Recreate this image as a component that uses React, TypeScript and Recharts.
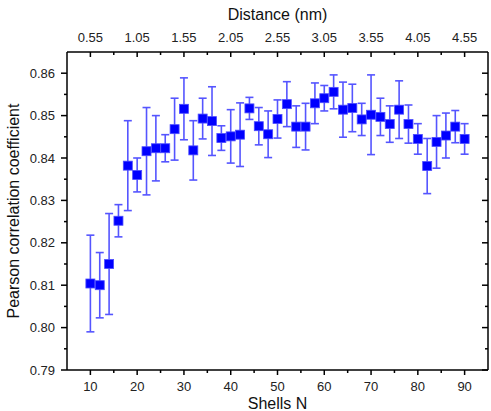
import { ScatterChart, Scatter, XAxis, YAxis, ErrorBar } from 'recharts'

// 壳层数 N
const shells = [
  10, 12, 14, 16, 18, 20, 22, 24, 26, 28, 30, 32, 34, 36, 38, 40, 42, 44, 46, 48, 50,
  52, 54, 56, 58, 60, 62, 64, 66, 68, 70, 72, 74, 76, 78, 80, 82, 84, 86, 88, 90,
]
// Pearson 相关系数
const pearson = [
  0.8104, 0.81, 0.815, 0.8252, 0.8382, 0.836, 0.8416, 0.8423, 0.8423, 0.8468, 0.8516,
  0.8418, 0.8493, 0.8487, 0.8447, 0.8451, 0.8455, 0.8517, 0.8475, 0.8456, 0.8492,
  0.8527, 0.8474, 0.8474, 0.8529, 0.8541, 0.8556, 0.8514, 0.8518, 0.8491, 0.8502,
  0.8497, 0.848, 0.8514, 0.848, 0.8445, 0.8381, 0.8438, 0.8453, 0.8474, 0.8445,
]
// 误差（±）
const errors = [
  0.0114, 0.0077, 0.0119, 0.0038, 0.0106, 0.004, 0.0103, 0.0077, 0.0032, 0.0073, 0.0073,
  0.007, 0.0048, 0.0081, 0.0029, 0.0063, 0.0075, 0.0026, 0.0044, 0.0055, 0.0045,
  0.0053, 0.0049, 0.0055, 0.0048, 0.003, 0.004, 0.0065, 0.0056, 0.0038, 0.0094,
  0.0044, 0.0043, 0.0068, 0.0045, 0.0036, 0.0065, 0.0062, 0.0053, 0.0038, 0.0036,
]

// 刻度（主刻度 + 次刻度）
const xTicks = [10, 15, 20, 25, 30, 35, 40, 45, 50, 55, 60, 65, 70, 75, 80, 85, 90]
const xLabels = [10, 20, 30, 40, 50, 60, 70, 80, 90]
// 顶部距离轴标签，与 xLabels 一一对应
const distLabels = ['0.55', '1.05', '1.55', '2.05', '2.55', '3.05', '3.55', '4.05', '4.55']
const yTicks = [0.79, 0.795, 0.8, 0.805, 0.81, 0.815, 0.82, 0.825, 0.83, 0.835, 0.84, 0.845, 0.85, 0.855, 0.86]
const yLabels = [0.79, 0.8, 0.81, 0.82, 0.83, 0.84, 0.85, 0.86]

const points = shells.map((n, i) => ({ n, r: pearson[i], err: errors[i] }))

const FONT = '"Liberation Sans", Arial, sans-serif'
const isMajor = (v: number, list: number[]) => list.some((m) => Math.abs(m - v) < 1e-6)

const BottomTick = (props: any) => {
  const { x, y, payload } = props
  const major = isMajor(payload.value, xLabels)
  return (
    <g>
      <line x1={x} y1={y} x2={x} y2={y + (major ? 5 : 3)} stroke="#000" strokeWidth={1.5} />
      {major && (
        <text x={x} y={y + 21} textAnchor="middle" fontSize={13} fill="#222" fontFamily={FONT}>
          {payload.value}
        </text>
      )}
    </g>
  )
}

// 顶轴刻度朝内
const TopTick = (props: any) => {
  const { x, y, payload } = props
  const idx = xLabels.indexOf(payload.value)
  const major = idx >= 0
  return (
    <g>
      <line x1={x} y1={y} x2={x} y2={y + (major ? 5 : 3)} stroke="#000" strokeWidth={1.5} />
      {major && (
        <text x={x} y={y - 10} textAnchor="middle" fontSize={13} fill="#222" fontFamily={FONT}>
          {distLabels[idx]}
        </text>
      )}
    </g>
  )
}

const LeftTick = (props: any) => {
  const { x, y, payload } = props
  const major = isMajor(payload.value, yLabels)
  return (
    <g>
      <line x1={x} y1={y} x2={x - (major ? 6 : 3)} y2={y} stroke="#000" strokeWidth={1.5} />
      {major && (
        <text x={x - 12} y={y + 4.5} textAnchor="end" fontSize={13} fill="#222" fontFamily={FONT}>
          {payload.value.toFixed(2)}
        </text>
      )}
    </g>
  )
}

// 右轴刻度朝内，无标签
const RightTick = (props: any) => {
  const { x, y, payload } = props
  const major = isMajor(payload.value, yLabels)
  return <line x1={x} y1={y} x2={x - (major ? 6 : 3)} y2={y} stroke="#000" strokeWidth={1.5} />
}

const Square = (props: any) => {
  const { cx, cy } = props
  return <rect x={cx - 4.5} y={cy - 4.5} width={9} height={9} fill="#0000ff" stroke="#4d4dff" strokeWidth={0.8} />
}

const axisLine = { stroke: '#000', strokeWidth: 1.5 }

export default function App() {
  return (
    <div style={{ width: 491, height: 411, background: '#fff' }}>
      <style>{'body{margin:0}'}</style>
      <ScatterChart width={491} height={411} margin={{ top: 0, right: 0, bottom: 0, left: 0 }}>
        <XAxis
          xAxisId="bottom"
          orientation="bottom"
          type="number"
          dataKey="n"
          domain={[5, 95]}
          ticks={xTicks}
          interval={0}
          height={41}
          tickSize={0}
          tickMargin={0}
          tickLine={false}
          axisLine={axisLine}
          tick={<BottomTick />}
          allowDataOverflow
          label={{
            content: (p: any) => {
              const vb = p.viewBox
              return (
                <text x={vb.x + vb.width / 2} y={vb.y + vb.height - 2} textAnchor="middle" fontSize={16} fill="#111" fontFamily={FONT}>
                  Shells N
                </text>
              )
            },
          }}
        />
        <XAxis
          xAxisId="top"
          orientation="top"
          type="number"
          dataKey="n"
          domain={[5, 95]}
          ticks={xTicks}
          interval={0}
          height={52}
          tickSize={0}
          tickMargin={0}
          tickLine={false}
          axisLine={axisLine}
          tick={<TopTick />}
          allowDataOverflow
          label={{
            content: (p: any) => {
              const vb = p.viewBox
              return (
                <text x={vb.x + vb.width / 2} y={vb.y + 20} textAnchor="middle" fontSize={16} fill="#111" fontFamily={FONT}>
                  Distance (nm)
                </text>
              )
            },
          }}
        />
        <YAxis
          yAxisId="left"
          orientation="left"
          type="number"
          dataKey="r"
          domain={[0.79, 0.865]}
          ticks={yTicks}
          interval={0}
          width={67}
          tickSize={0}
          tickMargin={0}
          tickLine={false}
          axisLine={axisLine}
          tick={<LeftTick />}
          allowDataOverflow
          label={{
            content: (p: any) => {
              const vb = p.viewBox
              const cx = vb.x + 13
              const cy = vb.y + vb.height / 2
              return (
                <text
                  x={cx}
                  y={cy}
                  transform={`rotate(-90, ${cx}, ${cy})`}
                  textAnchor="middle"
                  dominantBaseline="central"
                  fontSize={16}
                  fill="#111"
                  fontFamily={FONT}
                >
                  Pearson correlation coefficient
                </text>
              )
            },
          }}
        />
        <YAxis
          yAxisId="right"
          orientation="right"
          type="number"
          dataKey="r"
          domain={[0.79, 0.865]}
          ticks={yTicks}
          interval={0}
          width={3}
          tickSize={0}
          tickMargin={0}
          tickLine={false}
          axisLine={axisLine}
          tick={<RightTick />}
          allowDataOverflow
        />
        {/* 不可见的系列，用来挂顶轴和右轴 */}
        <Scatter
          data={points}
          xAxisId="top"
          yAxisId="right"
          dataKey="r"
          shape={() => null}
          isAnimationActive={false}
        />
        <Scatter
          data={points}
          xAxisId="bottom"
          yAxisId="left"
          dataKey="r"
          shape={<Square />}
          isAnimationActive={false}
        >
          <ErrorBar dataKey="err" direction="y" width={4} stroke="#5555ff" strokeWidth={1.6} isAnimationActive={false} />
        </Scatter>
      </ScatterChart>
    </div>
  )
}
